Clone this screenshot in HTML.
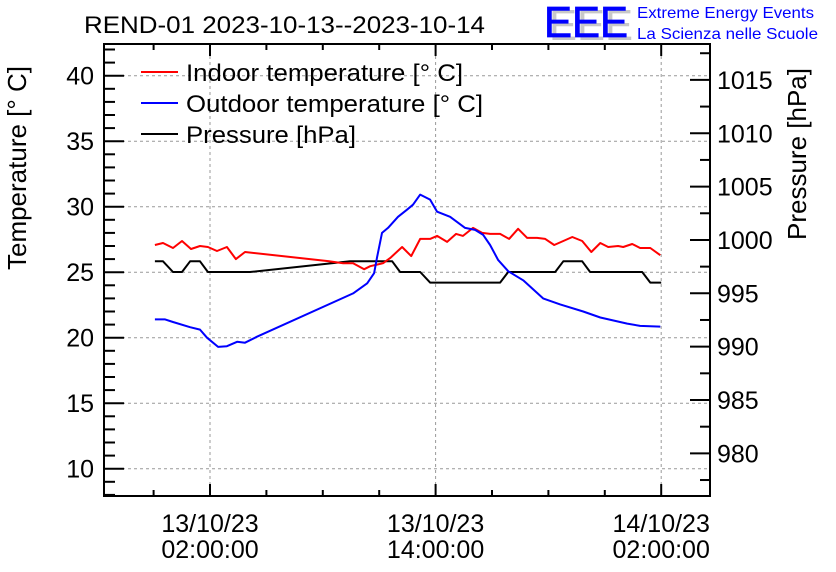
<!DOCTYPE html>
<html><head><meta charset="utf-8"><style>
html,body{margin:0;padding:0;background:#fff;}
svg{display:block;font-family:"Liberation Sans",Arial,sans-serif;}
</style></head><body>
<svg id="chart" width="836" height="572" viewBox="0 0 836 572" xmlns="http://www.w3.org/2000/svg">
<rect width="836" height="572" fill="#fff"/>
<g id="grid"></g>
<g id="series"></g>
<g id="axes"></g>
<text x="84" y="33" font-size="24.5" textLength="401" lengthAdjust="spacingAndGlyphs">REND-01 2023-10-13--2023-10-14</text>
<g>
<text x="549" y="40" font-size="44" fill="#c8c8c8" textLength="84" lengthAdjust="spacingAndGlyphs">EEE</text>
<text x="544" y="37" font-size="44" fill="#0000ff" textLength="84" lengthAdjust="spacingAndGlyphs" stroke="#0000ff" stroke-width="0.8">EEE</text>
<text x="637" y="18" font-size="16" fill="#0000ff" textLength="177" lengthAdjust="spacingAndGlyphs">Extreme Energy Events</text>
<text x="637" y="39" font-size="16" fill="#0000ff" textLength="181" lengthAdjust="spacingAndGlyphs">La Scienza nelle Scuole</text>
</g>
<text transform="translate(26,168) rotate(-90)" text-anchor="middle" font-size="26">Temperature [° C]</text>
<text transform="translate(806,154) rotate(-90)" text-anchor="middle" font-size="26">Pressure [hPa]</text>
<g>
<g><line x1="141" y1="72" x2="178" y2="72" stroke="#ff0000" stroke-width="2"/><text x="186" y="81" font-size="24" textLength="277" lengthAdjust="spacingAndGlyphs">Indoor temperature [° C]</text></g>
<g><line x1="141" y1="103" x2="178" y2="103" stroke="#0000ff" stroke-width="2"/><text x="186" y="112" font-size="24" textLength="297" lengthAdjust="spacingAndGlyphs">Outdoor temperature [° C]</text></g>
<g><line x1="141" y1="134" x2="178" y2="134" stroke="#000" stroke-width="2"/><text x="186" y="143" font-size="24" textLength="170" lengthAdjust="spacingAndGlyphs">Pressure [hPa]</text></g>
</g>
</svg>
<script>
// data: hours since 2023-10-13 00:00
const indoorHours=[-0.93,-0.5,0.03,0.51,0.99,1.47,1.89,2.37,2.9,3.38,3.86,8.28,9.08,9.61,10.2,10.52,11.21,11.58,12.22,12.7,13.18,13.71,14.08,14.61,15.09,15.46,15.99,16.48,16.9,17.43,17.91,18.39,18.87,19.4,19.83,20.31,20.79,21.27,21.8,22.28,22.76,23.18,23.71,23.98,24.46,24.88,25.42,25.95];
const indoorTemp=[27.08,27.23,26.85,27.38,26.77,27.0,26.92,26.62,26.92,26.0,26.54,25.85,25.69,25.69,25.23,25.46,25.69,26.08,26.92,26.23,27.54,27.54,27.77,27.31,27.92,27.77,28.38,28.0,27.92,27.92,27.54,28.31,27.62,27.62,27.54,27.08,27.38,27.69,27.38,26.54,27.23,26.92,27.0,26.92,27.15,26.85,26.85,26.3];
const outdoorHours=[-0.93,-0.39,0.03,0.94,1.47,1.84,2.43,2.9,3.44,3.86,4.5,9.61,10.36,10.73,10.89,11.15,11.47,12.0,12.48,12.8,13.18,13.71,14.08,14.77,15.57,16.1,16.53,16.9,17.33,17.86,18.66,19.72,20.63,21.85,22.76,24.19,24.88,25.95];
const outdoorTemp=[21.4,21.4,21.2,20.8,20.62,20.0,19.3,19.35,19.69,19.62,20.08,23.38,24.15,24.92,26.15,28.0,28.38,29.23,29.77,30.15,30.92,30.54,29.62,29.23,28.38,28.23,27.85,27.08,25.92,25.08,24.38,23.0,22.54,22.0,21.54,21.08,20.9,20.85];
const pressureHours=[-0.93,-0.5,0.03,0.51,0.94,1.47,1.89,4.13,9.45,11.69,12.11,13.18,13.71,17.43,17.86,20.36,20.79,21.8,22.22,24.99,25.42,26.0];
const pressureVals=[998,998,997,997,998,998,997,997,998,998,997,997,996,996,997,997,998,998,997,997,996,996];
const tempTicks=[10,15,20,25,30,35,40];
const presTicks=[980,985,990,995,1000,1005,1010,1015];
const timeTicks=[2,14,26];
const timeLabels=[["13/10/23","02:00:00"],["13/10/23","14:00:00"],["14/10/23","02:00:00"]];

const L=104,R=710,T=44,B=496;
const xs=h=>210+(h-2)*225.6/12;
const yT=t=>272.2-(t-25)*13.1;
const yP=p=>293.3-(p-995)*10.67;
const NS="http://www.w3.org/2000/svg";
function mk(tag,attrs,parent){const e=document.createElementNS(NS,tag);for(const k in attrs)e.setAttribute(k,attrs[k]);parent.appendChild(e);return e;}
const grid=document.getElementById('grid'),ser=document.getElementById('series'),ax=document.getElementById('axes');
tempTicks.forEach(t=>{const l=mk('line',{x1:L,x2:R,y1:yT(t),y2:yT(t),stroke:'#999','stroke-dasharray':'3,3','stroke-width':1},grid);

});
timeTicks.forEach(h=>{const l=mk('line',{x1:xs(h),x2:xs(h),y1:T,y2:B,stroke:'#999','stroke-dasharray':'3,3','stroke-width':1},grid);

});
function line(hs,vs,yf,color,name){const d=hs.map((h,i)=>(i?'L':'M')+xs(h).toFixed(1)+','+yf(vs[i]).toFixed(1)).join('');
const p=mk('path',{d:d,fill:'none',stroke:color,'stroke-width':2,'stroke-linejoin':'round'},ser);

}
line(pressureHours,pressureVals,yP,'#000','pressure-line');
line(indoorHours,indoorTemp,yT,'#ff0000','indoor-temperature-line');
line(outdoorHours,outdoorTemp,yT,'#0000ff','outdoor-temperature-line');
const fr=mk('rect',{x:L,y:T,width:R-L,height:B-T,fill:'none',stroke:'#000','stroke-width':2},ax);


for(let t=8;t<=42;t++){const maj=t%5===0;mk('line',{x1:L,x2:L+(maj?20:11),y1:yT(t),y2:yT(t),stroke:'#000','stroke-width':2},ax);}
tempTicks.forEach(t=>{const e=mk('text',{x:L-10,y:yT(t)+9,'text-anchor':'end','font-size':25},ax);e.textContent=t;

});
for(let p=977.5;p<=1017.5;p+=2.5){const maj=p%5===0;mk('line',{x1:R,x2:R-(maj?20:10),y1:yP(p),y2:yP(p),stroke:'#000','stroke-width':2},ax);}
presTicks.forEach(p=>{const e=mk('text',{x:R+7,y:yP(p)+9,'font-size':25},ax);e.textContent=p;

});
for(let h=-1;h<=29;h+=3){const x=xs(h);if(x<L||x>R)continue;const maj=(h-2)%12===0;const len=maj?12:6;
mk('line',{x1:x,x2:x,y1:B,y2:B-len,stroke:'#000','stroke-width':2},ax);
mk('line',{x1:x,x2:x,y1:T,y2:T+len,stroke:'#000','stroke-width':2},ax);}
timeTicks.forEach((h,i)=>{const e=mk('text',{x:xs(h),y:532,'text-anchor':'middle','font-size':25},ax);e.textContent=timeLabels[i][0];


const f=mk('text',{x:xs(h),y:558,'text-anchor':'middle','font-size':25},ax);f.textContent=timeLabels[i][1];

});
</script>
</body></html>
